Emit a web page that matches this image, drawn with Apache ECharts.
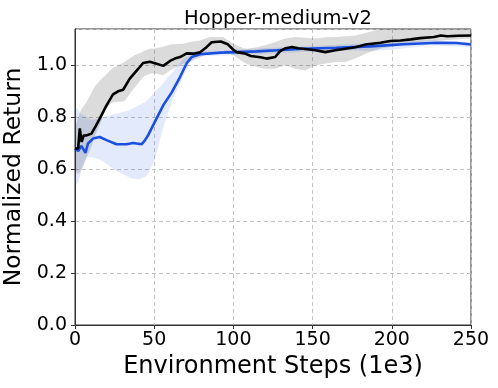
<!DOCTYPE html>
<html>
<head>
<meta charset="utf-8">
<script src="https://cdn.jsdelivr.net/npm/echarts@6/dist/echarts.min.js"></script>
<style>
  html, body { margin: 0; padding: 0; background: #fff; }
  #chart { width: 498px; height: 388px; }
</style>
</head>
<body>
<div id="chart"></div>
<script>
var FONT = 'DejaVu Sans';

// black line (x in 1e3 steps)
var blackX = [0, 2, 3, 4.2, 5.5, 7, 10.4, 13, 15.6, 19.9, 24, 27.2, 30.4, 34.6, 40, 43, 47.3, 51.5, 55.7, 60, 63, 66.3, 70.5, 74.7, 79, 83, 86.3, 92, 96.5, 100, 102, 107, 111, 117, 121, 126.4, 129.5, 133, 137, 141, 146.5, 151.7, 158, 164.4, 170.7, 177, 183.4, 192.8, 199, 205.5, 212, 218, 226.7, 230.9, 235, 242, 250];
var blackY = [0.68, 0.68, 0.757, 0.705, 0.73, 0.73, 0.737, 0.765, 0.795, 0.846, 0.888, 0.90, 0.906, 0.949, 0.987, 1.009, 1.014, 1.006, 0.998, 1.017, 1.026, 1.032, 1.046, 1.045, 1.05, 1.07, 1.089, 1.092, 1.081, 1.06, 1.051, 1.046, 1.036, 1.031, 1.026, 1.032, 1.055, 1.066, 1.071, 1.066, 1.062, 1.058, 1.051, 1.058, 1.064, 1.07, 1.08, 1.087, 1.094, 1.096, 1.10, 1.105, 1.109, 1.115, 1.112, 1.114, 1.115];

// blue line
var blueX = [0, 2, 3, 4, 5, 6.6, 8.2, 11.4, 15.6, 19.9, 26.2, 32.5, 36.7, 42, 44, 46.2, 50.4, 55.7, 61, 66.3, 70.5, 73.7, 79, 91.6, 102, 114.8, 127.5, 144, 165, 186.5, 207.6, 228.7, 241, 250];
var blueY = [0.68, 0.67, 0.667, 0.69, 0.68, 0.663, 0.699, 0.718, 0.724, 0.712, 0.696, 0.696, 0.701, 0.696, 0.71, 0.731, 0.782, 0.846, 0.895, 0.955, 1.008, 1.032, 1.043, 1.049, 1.051, 1.054, 1.058, 1.064, 1.068, 1.073, 1.081, 1.087, 1.086, 1.08];

// blue band
var blueBandX = [0, 2, 4.2, 7.4, 10.6, 14.8, 19, 21, 25.3, 27.4, 33.7, 35.9, 40, 44.3, 46.4, 50.4, 55.7, 57.8, 62, 64.2, 68.4, 72.6, 75, 80, 100, 125, 150, 175, 185, 200, 225, 250];
var blueBandLo = [0.53, 0.55, 0.60, 0.645, 0.645, 0.64, 0.625, 0.615, 0.595, 0.59, 0.57, 0.565, 0.56, 0.57, 0.585, 0.635, 0.763, 0.80, 0.872, 0.90, 0.96, 1.01, 1.032, 1.035, 1.04, 1.046, 1.053, 1.058, 1.055, 1.06, 1.077, 1.07];
var blueBandHi = [0.84, 0.83, 0.81, 0.80, 0.79, 0.795, 0.80, 0.805, 0.814, 0.816, 0.826, 0.833, 0.845, 0.859, 0.87, 0.897, 0.93, 0.949, 0.975, 0.994, 1.025, 1.038, 1.05, 1.053, 1.06, 1.068, 1.075, 1.082, 1.085, 1.09, 1.097, 1.09];

// gray band
var grayBandX = [0, 2, 4.2, 7.4, 10.6, 12.7, 16.9, 19, 23.2, 25.3, 29.6, 31.6, 35.9, 38, 42.2, 44.3, 47.3, 50, 55.7, 60, 64.2, 68.4, 72.6, 79, 83, 85.3, 93.5, 100, 106.3, 108.5, 114.8, 120, 126.4, 132.7, 139, 145.4, 151.7, 158, 164.4, 170.7, 177, 183.4, 192.8, 205.5, 218, 231, 250];
var grayBandLo = [0.60, 0.58, 0.60, 0.647, 0.69, 0.73, 0.79, 0.827, 0.855, 0.859, 0.86, 0.865, 0.90, 0.917, 0.949, 0.96, 0.968, 0.97, 0.962, 0.98, 0.994, 1.005, 1.013, 1.03, 1.045, 1.05, 1.058, 1.038, 1.013, 1.005, 0.994, 0.987, 0.987, 1.0, 0.987, 0.98, 1.0, 1.006, 1.013, 1.013, 1.026, 1.045, 1.064, 1.077, 1.09, 1.096, 1.103];
var grayBandHi = [0.76, 0.80, 0.833, 0.86, 0.897, 0.92, 0.949, 0.96, 0.987, 0.995, 1.007, 1.015, 1.032, 1.04, 1.05, 1.058, 1.064, 1.065, 1.072, 1.08, 1.082, 1.083, 1.09, 1.096, 1.105, 1.109, 1.109, 1.083, 1.066, 1.064, 1.07, 1.077, 1.09, 1.103, 1.109, 1.106, 1.103, 1.108, 1.109, 1.112, 1.115, 1.125, 1.14, 1.14, 1.14, 1.14, 1.14];

var xTicks = [0, 50, 100, 150, 200, 250];

function pairs(xs, ys) {
  var out = [];
  for (var i = 0; i < xs.length; i++) out.push([xs[i], ys[i]]);
  return out;
}

function bandSeries(xs, lo, hi, color) {
  return {
    type: 'custom',
    silent: true,
    data: [[xs[0], lo[0]]],
    renderItem: function (params, api) {
      var pts = [];
      for (var i = 0; i < xs.length; i++) pts.push(api.coord([xs[i], hi[i]]));
      for (var j = xs.length - 1; j >= 0; j--) pts.push(api.coord([xs[j], lo[j]]));
      return {
        type: 'polygon',
        shape: { points: pts },
        style: { fill: color }
      };
    }
  };
}

var chart = echarts.init(document.getElementById('chart'));
var option = {
  animation: false,
  backgroundColor: '#fff',
  title: {
    text: 'Hopper-medium-v2',
    left: 273,
    textAlign: 'center',
    top: 4,
    textStyle: { fontFamily: FONT, fontSize: 19.5, fontWeight: 'normal', color: '#000' }
  },
  grid: {
    left: 75, right: 27, top: 29, bottom: 63,
    outerBoundsMode: 'none',
    containLabel: false,
    show: true, borderColor: '#333', borderWidth: 1
  },
  xAxis: {
    type: 'value',
    min: 0, max: 250, interval: 50,
    name: 'Environment Steps (1e3)',
    nameLocation: 'middle',
    nameGap: 27,
    nameTextStyle: { fontFamily: FONT, fontSize: 24, color: '#000' },
    axisLine: { show: true, lineStyle: { color: '#333', width: 1 } },
    axisTick: { show: true, length: 4, lineStyle: { color: '#333' } },
    axisLabel: {
      margin: 6, fontFamily: FONT, fontSize: 19, color: '#000',
      formatter: function (v) { return xTicks.indexOf(v) >= 0 ? String(v) : ''; }
    },
    splitLine: { show: true, lineStyle: { color: '#c4c4c4', type: [4, 3], width: 1 } }
  },
  yAxis: {
    type: 'value',
    min: 0, max: 1.14, interval: 0.2,
    name: 'Normalized Return',
    nameLocation: 'middle',
    nameGap: 48,
    nameTextStyle: { fontFamily: FONT, fontSize: 23.5, color: '#000' },
    axisLine: { show: true, lineStyle: { color: '#333', width: 1 } },
    axisTick: { show: true, length: 4, lineStyle: { color: '#333' } },
    axisLabel: {
      margin: 8, fontFamily: FONT, fontSize: 19, color: '#000',
      showMaxLabel: false,
      formatter: function (v) { return v.toFixed(1); }
    },
    splitLine: { show: true, lineStyle: { color: '#c4c4c4', type: [4, 3], width: 1 } }
  },
  series: [
    bandSeries(blueBandX, blueBandLo, blueBandHi, 'rgba(30, 90, 230, 0.13)'),
    bandSeries(grayBandX, grayBandLo, grayBandHi, 'rgba(0, 0, 0, 0.14)'),
    {
      type: 'line',
      data: pairs(blueX, blueY),
      showSymbol: false,
      lineStyle: { color: '#1a4fe0', width: 2.6 },
      z: 3
    },
    {
      type: 'line',
      data: pairs(blackX, blackY),
      showSymbol: false,
      lineStyle: { color: '#000', width: 2.6 },
      z: 4
    }
  ]
};
chart.setOption(option);
</script>
</body>
</html>
